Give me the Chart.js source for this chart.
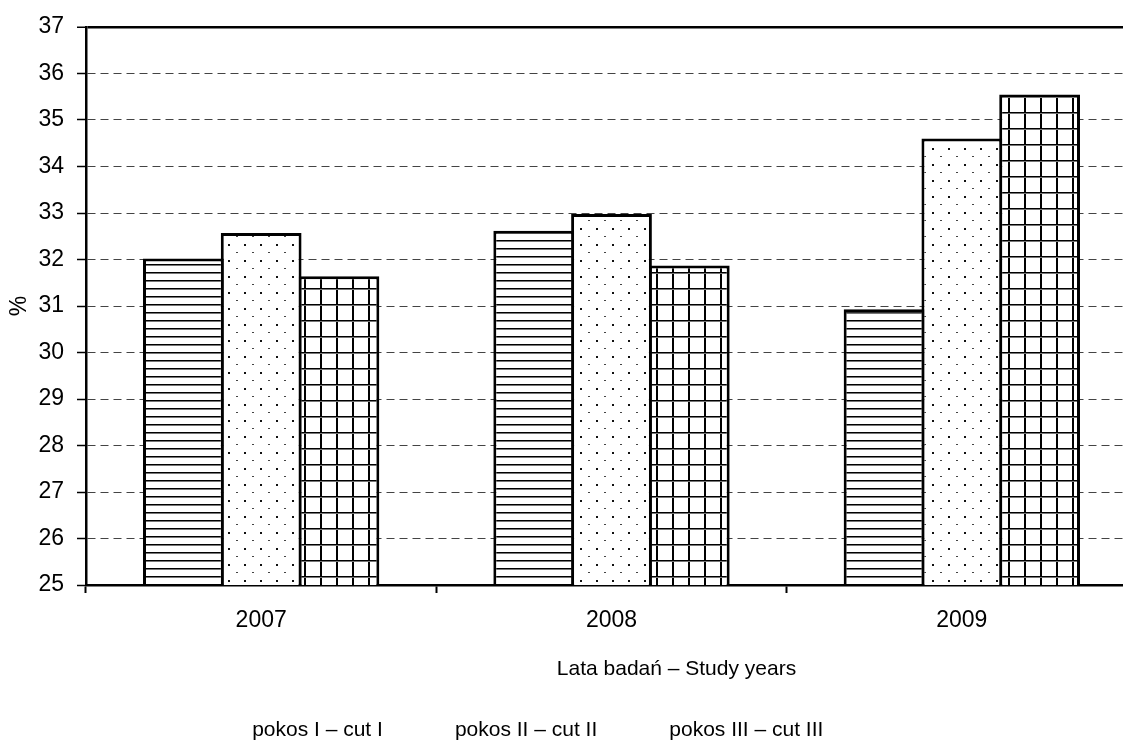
<!DOCTYPE html>
<html lang="pl">
<head>
<meta charset="UTF-8">
<title>Chart</title>
<style>
  html, body { margin: 0; padding: 0; background: #fff; overflow: hidden; }
  #wrap { width: 1137px; height: 751px; }
</style>
</head>
<body>
<div id="wrap"><canvas id="myChart" width="1137" height="751"></canvas></div>
<script src="https://cdn.jsdelivr.net/npm/chart.js"></script>
<script>
const years = ['2007', '2008', '2009'];
const cutI = [32.02, 32.62, 30.93];
const cutII = [32.57, 32.98, 34.6];
const cutIII = [31.64, 31.87, 35.55];
const seriesNames = ['pokos I – cut I', 'pokos II – cut II', 'pokos III – cut III'];
const yMin = 25, yMax = 37, yStep = 1;
const yTitle = '%';
const xTitle = 'Lata badań – Study years';

const FONT = '"Liberation Sans", Arial, sans-serif';
Chart.defaults.font.family = FONT;
Chart.defaults.font.size = 21;
Chart.defaults.color = '#000';

const canvas = document.getElementById('myChart');
const ctx = canvas.getContext('2d');

// hatch fills like the old b/w excel chart
function tile(size, draw) {
  const c = document.createElement('canvas');
  c.width = size; c.height = size;
  const g = c.getContext('2d');
  g.fillStyle = '#fff';
  g.fillRect(0, 0, size, size);
  draw(g);
  return ctx.createPattern(c, 'repeat');
}
const hLines = tile(8, g => {
  g.fillStyle = '#000'; g.fillRect(0, 0, 8, 1);
  g.fillStyle = '#777'; g.fillRect(0, 1, 8, 1);
});
const dots = tile(16, g => {
  g.fillStyle = '#111'; g.fillRect(4, 4, 2, 2);
  g.fillStyle = '#444'; g.fillRect(12, 12, 2, 1);
});
const grid = tile(16, g => {
  g.fillStyle = '#000';
  g.fillRect(0, 0, 2, 16);
  g.fillRect(0, 0, 16, 1);
  g.fillStyle = '#777';
  g.fillRect(0, 1, 16, 1);
});

// excel put the legend a bit left of centre
const legendShift = {
  id: 'legendShift',
  afterLayout(chart) {
    chart.legend.right = chart.legend.left + 1065;
  }
};

const xTitlePlugin = {
  id: 'xTitleText',
  afterDraw(chart) {
    const x = chart.scales.x;
    const c = chart.ctx;
    c.save();
    c.font = '21px ' + FONT;
    c.fillStyle = '#000';
    c.textAlign = 'center';
    c.textBaseline = 'middle';
    c.fillText(xTitle, x.getPixelForValue(1) + 65, x.top + 84);
    c.restore();
  }
};

// bars overlap by one border width so neighbours share a single edge
const barStyle = { borderColor: '#000', borderWidth: 3, borderSkipped: false, barPercentage: 1.0386, categoryPercentage: 0.666 };

new Chart(ctx, {
  type: 'bar',
  data: {
    labels: years,
    datasets: [
      { label: seriesNames[0], data: cutI, backgroundColor: hLines, ...barStyle },
      { label: seriesNames[1], data: cutII, backgroundColor: dots, ...barStyle },
      { label: seriesNames[2], data: cutIII, backgroundColor: grid, ...barStyle }
    ]
  },
  options: {
    responsive: false,
    animation: false,
    layout: { padding: { top: 27, left: 0, right: 0, bottom: 0 } },
    plugins: {
      tooltip: { enabled: false },
      legend: {
        position: 'bottom',
        labels: {
          boxWidth: 0,
          padding: 61.5,
          color: '#000',
          font: { size: 21 },
          generateLabels: chart => chart.data.datasets.map((ds, i) => ({
            text: ds.label, fillStyle: 'rgba(0,0,0,0)', strokeStyle: 'rgba(0,0,0,0)',
            lineWidth: 0, hidden: false, datasetIndex: i, fontColor: '#000'
          }))
        }
      }
    },
    scales: {
      x: {
        grid: { offset: true, drawOnChartArea: false, drawTicks: true, tickLength: 8, tickColor: '#000', tickWidth: 2 },
        border: { color: '#000', width: 2.5 },
        ticks: { padding: 14, color: '#000', font: { size: 23 } },
        afterFit: scale => { scale.height = 73.5; }
      },
      y: {
        min: yMin,
        max: yMax,
        ticks: { stepSize: yStep, padding: 13, color: '#000', font: { size: 23 }, autoSkip: false },
        grid: {
          color: c => c.tick && c.tick.value === yMax ? '#000' : '#444',
          lineWidth: c => c.tick && c.tick.value === yMax ? 2.5 : 1,
          tickLength: 9, tickColor: '#000', tickWidth: 1.5, tickBorderDash: []
        },
        border: { color: '#000', width: 2.5, dash: c => c.tick && c.tick.value === yMax ? [] : [8, 5] },
        title: { display: true, text: yTitle, color: '#000', font: { size: 23 }, padding: { top: 6, bottom: 0 } },
        afterFit: scale => { scale.width = 86; }
      }
    }
  },
  plugins: [legendShift, xTitlePlugin]
});
</script>
</body>
</html>
